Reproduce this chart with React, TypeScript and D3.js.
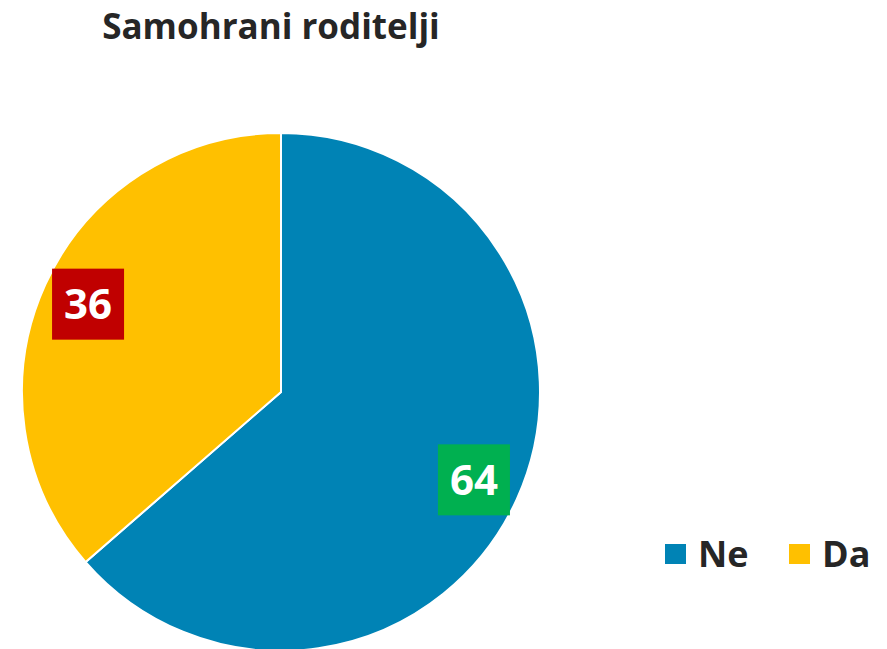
import React from "react";
import * as d3 from "d3";

const title = "Samohrani roditelji";
const categories = ["Ne", "Da"];
const values = [63.6, 36.4];
const sliceColors = ["#0083B5", "#FFC000"];
const labelBoxColors = ["#00B050", "#C00000"];

export default function App() {
  const W = 887, H = 649;
  const cx = 281, cy = 392, R = 259;
  const pie = d3.pie<number>().sort(null).value((d) => d)(values);
  const arc = d3.arc<d3.PieArcDatum<number>>().innerRadius(0).outerRadius(R);
  const labelArc = d3.arc<d3.PieArcDatum<number>>().innerRadius(424).outerRadius(0);
  const fmt = d3.format(".0f");
  const font = "'Open Sans', 'Noto Sans', sans-serif";
  const legendX = [665, 789];
  return (
    <div style={{ position: "fixed", left: 0, top: 0 }}>
      <svg width={W} height={H} style={{ display: "block", background: "#fff" }}>
        <text x={271} y={39} textAnchor="middle" fontFamily={font} fontWeight={700} fontSize={35} fill="#262626">
          {title}
        </text>
        <g transform={`translate(${cx},${cy})`}>
          {pie.map((p, i) => (
            <path key={i} d={arc(p) || ""} fill={sliceColors[i]} stroke="#fff" strokeWidth={2} />
          ))}
          {pie.map((p, i) => {
            const [lx, ly] = labelArc.centroid(p);
            return (
              <g key={"l" + i} transform={`translate(${lx},${ly})`}>
                <rect x={-36} y={-35.5} width={72} height={71} fill={labelBoxColors[i]} />
                <text x={0} y={15} textAnchor="middle" fontFamily={font} fontWeight={700} fontSize={42} fill="#fff">
                  {fmt(values[i])}
                </text>
              </g>
            );
          })}
        </g>
        {categories.map((c, i) => (
          <g key={c} transform={`translate(${legendX[i]},0)`}>
            <rect x={0} y={544} width={21} height={20} fill={sliceColors[i]} />
            <text x={33} y={567} fontFamily={font} fontWeight={700} fontSize={36} fill="#262626">
              {c}
            </text>
          </g>
        ))}
      </svg>
    </div>
  );
}
